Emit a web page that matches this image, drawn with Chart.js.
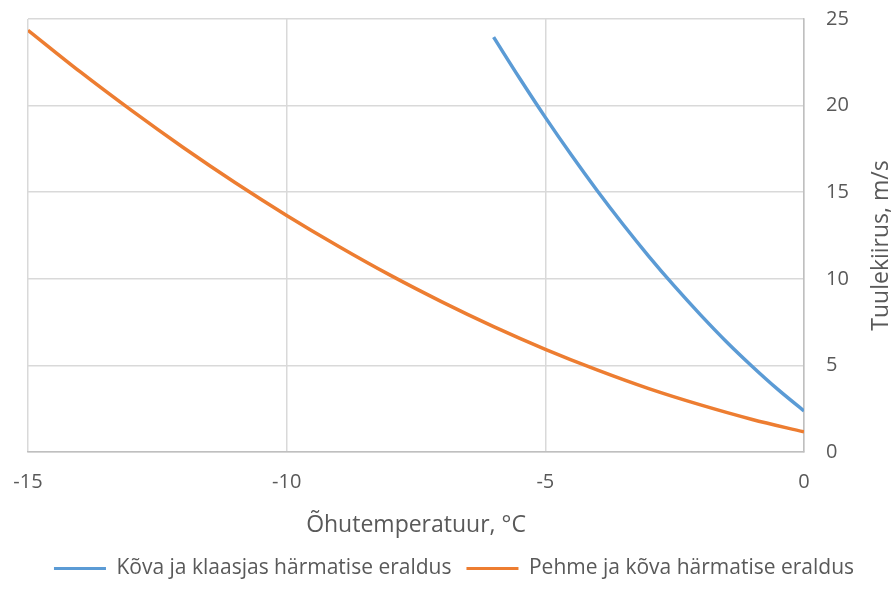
<!DOCTYPE html>
<html>
<head>
<meta charset="utf-8">
<script src="https://cdn.jsdelivr.net/npm/chart.js@4/dist/chart.umd.min.js"></script>
<style>
html,body{margin:0;padding:0;background:#fff;}
#wrap{width:896px;height:605px;position:relative;}
</style>
</head>
<body>
<div id="wrap"><canvas id="c" width="896" height="605"></canvas></div>
<script>
// Data
const hardX = [-6, -5.5, -5, -4.5, -4, -3.5, -3, -2.5, -2, -1.5, -1, -0.5, 0];
const hardY = [23.95, 21.59, 19.32, 17.16, 15.10, 13.15, 11.30, 9.56, 7.92, 6.37, 4.94, 3.60, 2.37];
const softX = [-15, -14, -13, -12, -11, -10, -9, -8, -7, -6, -5, -4, -3, -2, -1, 0];
const softY = [24.35, 21.97, 19.72, 17.58, 15.56, 13.66, 11.88, 10.21, 8.67, 7.24, 5.93, 4.74, 3.66, 2.72, 1.88, 1.16];
const seriesNames = ['Kõva ja klaasjas härmatise eraldus', 'Pehme ja kõva härmatise eraldus'];
const xTitle = 'Õhutemperatuur, °C';
const yTitle = 'Tuulekiirus, m/s';

const FONT = '"Open Sans", "Liberation Sans", sans-serif';
const TXT = '#595959';

const yTitlePlugin = {
  id: 'yTitle',
  afterLayout(chart) {
    if (chart.legend) { chart.legend.left -= 8; chart.legend.right -= 8; }
  },
  afterDraw(chart) {
    const ctx = chart.ctx, ca = chart.chartArea;
    ctx.save();
    ctx.translate(881, (ca.top + ca.bottom) / 2 + 10);
    ctx.rotate(-Math.PI / 2);
    ctx.fillStyle = TXT;
    ctx.font = '23px ' + FONT;
    ctx.textAlign = 'center';
    ctx.textBaseline = 'middle';
    ctx.fillText(yTitle, 0, 0);
    ctx.restore();
  }
};

new Chart(document.getElementById('c'), {
  type: 'line',
  data: {
    datasets: [
      { label: seriesNames[0], data: hardX.map((x, i) => ({x, y: hardY[i]})),
        borderColor: '#5b9bd5', backgroundColor: '#5b9bd5', borderWidth: 3.5,
        pointRadius: 0, cubicInterpolationMode: 'monotone' },
      { label: seriesNames[1], data: softX.map((x, i) => ({x, y: softY[i]})),
        borderColor: '#ed7d31', backgroundColor: '#ed7d31', borderWidth: 3.5,
        pointRadius: 0, cubicInterpolationMode: 'monotone' }
    ]
  },
  options: {
    responsive: false,
    animation: false,
    layout: { padding: { left: 28, top: 19, right: 0, bottom: 16 } },
    scales: {
      x: {
        type: 'linear', min: -15, max: 0,
        ticks: { stepSize: 5, color: TXT, font: { family: FONT, size: 20 }, padding: 18 },
        grid: { color: '#d9d9d9', lineWidth: 1.5, drawTicks: false },
        border: { color: '#bfbfbf', width: 1.5 },
        title: { display: true, text: xTitle, color: TXT, font: { family: FONT, size: 23 }, padding: { top: 10, bottom: 4 } },
        afterFit(s) { s.height = 91; s.paddingLeft = 0; s.paddingRight = 0; }
      },
      y: {
        position: 'right', min: 0, max: 25,
        ticks: { stepSize: 5, color: TXT, font: { family: FONT, size: 20 }, padding: 22 },
        grid: { color: '#d9d9d9', lineWidth: 1.5, drawTicks: false },
        border: { color: '#bfbfbf', width: 1.5 },
        afterFit(s) { s.width = 92; s.paddingTop = 0; s.paddingBottom = 0; }
      }
    },
    plugins: {
      legend: {
        position: 'bottom',
        labels: {
          color: TXT, font: { family: FONT, size: 21 }, boxWidth: 52, boxHeight: 3, padding: 15,
          generateLabels(chart) {
            const items = Chart.defaults.plugins.legend.labels.generateLabels(chart);
            items.forEach(it => { it.lineWidth = 0; it.fillStyle = it.strokeStyle; });
            return items;
          }
        }
      },
      tooltip: { enabled: false }
    }
  },
  plugins: [yTitlePlugin]
});
</script>
</body>
</html>
